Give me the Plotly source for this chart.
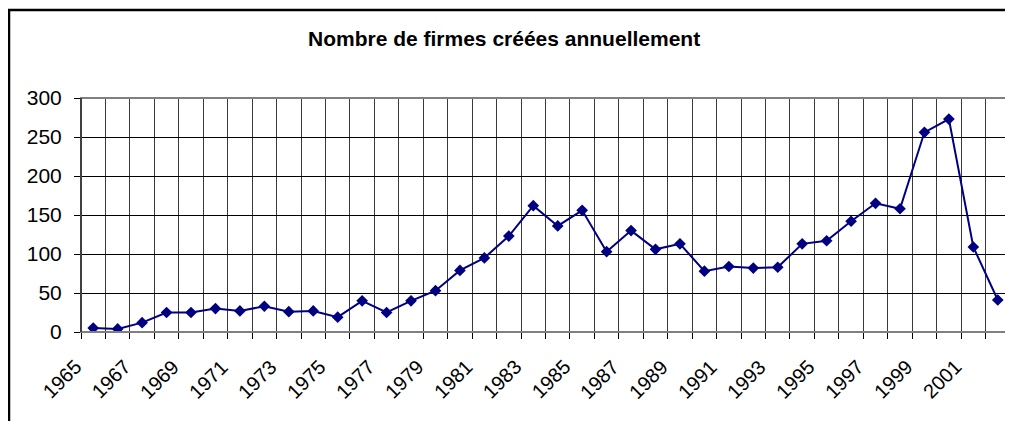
import plotly.graph_objects as go

years = list(range(1965, 2003))
firms = [5, 4, 12, 25, 25, 30, 27, 33, 26, 27, 19, 40, 25, 40, 53, 79, 95, 123,
         162, 136, 156, 103, 130, 106, 113, 78, 84, 82, 83, 113, 117, 142, 165,
         158, 256, 273, 109, 41]
label_years = years[:-1:2]
label_text = [str(y) for y in label_years]
y_ticks = [0, 50, 100, 150, 200, 250, 300]
title_text = "Nombre de firmes créées annuellement"

# the page body has an 8px margin; work in figure coordinates
OFF = 8
W, H = 1013 - OFF, 421 - OFF
L, R, T, B = 81 - OFF, 1010 - OFF, 98 - OFF, 332 - OFF
pw, ph = R - L, B - T

def px_x(p):
    return (p - OFF - L) / pw

def px_y(p):
    return (B - (p - OFF)) / ph

FONT = "Liberation Sans, Arial, sans-serif"

fig = go.Figure()
fig.add_trace(go.Scatter(
    x=years, y=firms, mode="lines+markers",
    line=dict(color="#000080", width=2),
    marker=dict(symbol="diamond", size=9, color="#000080"),
    showlegend=False, hoverinfo="x+y",
))

xr = [years[0] - 0.5, years[-1] + 0.5]
bounds = [years[0] - 0.5 + i for i in range(len(years) + 1)]

annotations = [
    dict(text="<b>" + title_text + "</b>", xref="paper", yref="paper",
         x=px_x(504), y=px_y(38), showarrow=False,
         xanchor="center", yanchor="middle",
         font=dict(size=21, family=FONT, color="black")),
]
for yr, txt in zip(label_years, label_text):
    annotations.append(dict(
        text=txt, xref="x", yref="paper", x=yr, y=px_y(354),
        xanchor="right", yanchor="top", textangle=-45, showarrow=False,
        xshift=-6, font=dict(size=20, family=FONT, color="black"),
        borderpad=0,
    ))

fig.update_layout(
    width=W, height=H,
    margin=dict(l=L, r=W - R, t=T, b=H - B, pad=0, autoexpand=False),
    paper_bgcolor="white", plot_bgcolor="white",
    font=dict(family=FONT, size=21, color="black"),
    xaxis=dict(
        range=xr, tickmode="array", tickvals=bounds, showticklabels=False,
        ticks="outside", ticklen=6, tickcolor="black",
        showgrid=True, gridcolor="#3a3a3a", gridwidth=1,
        showline=True, linecolor="black", linewidth=1, zeroline=False,
        automargin=False,
    ),
    yaxis=dict(
        range=[0, 300], tickmode="array", tickvals=y_ticks,
        ticks="outside", ticklen=6, tickcolor="black",
        showgrid=True, gridcolor="black", gridwidth=1,
        showline=True, linecolor="black", linewidth=1, zeroline=False,
        tickfont=dict(size=21, family=FONT), ticklabelstandoff=8,
        automargin=False,
    ),
    shapes=[
        dict(type="rect", xref="paper", yref="paper",
             x0=0, x1=1, y0=0, y1=1, line=dict(color="#808080", width=2),
             layer="above"),
        dict(type="line", xref="paper", yref="paper",
             x0=0, x1=0, y0=0, y1=1, line=dict(color="black", width=1),
             layer="above"),
        dict(type="rect", xref="paper", yref="paper",
             x0=px_x(9), x1=px_x(1030), y0=px_y(10), y1=px_y(440),
             line=dict(color="black", width=2.5)),
    ],
    annotations=annotations,
)

fig.write_html("out.html")
